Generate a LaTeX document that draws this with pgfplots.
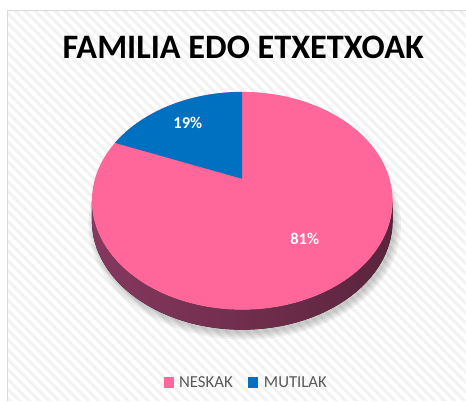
\documentclass[border=0pt]{standalone}
\usepackage{pgfplots}
\usepackage{pgfplotstable}
\pgfplotsset{compat=1.18}
\usetikzlibrary{patterns.meta}
\usepackage{fontspec}
\setmainfont{Carlito}
\definecolor{neskak}{HTML}{FF6699}
\definecolor{mutilak}{HTML}{0070C0}
\definecolor{sideL}{HTML}{86385E}
\definecolor{sideR}{HTML}{5B243D}
\definecolor{legtxt}{HTML}{595959}
\definecolor{stripe}{HTML}{F2F2F2}
\definecolor{frame}{HTML}{D9D9D9}

\pgfplotstableread{
name    value
NESKAK  81
MUTILAK 19
}\piedata

\begin{document}
\begin{tikzpicture}
\pgfplotstablegetelem{1}{value}\of\piedata
\let\blueval\pgfplotsretval
% perspective of the pie top: apex at (242.5,222), ellipse centre (242.5,200)
\pgfmathsetmacro\th{90+3.6*\blueval}
\pgfmathsetmacro\den{1+0.2018*sin(\th)}
\pgfmathsetmacro\PX{242.5+146.9*cos(\th)/\den}
\pgfmathsetmacro\PY{222+104.6*sin(\th)/\den}
\pgfmathsetmacro\tend{atan2((\PY-200)/109,(\PX-242.5)/150.5)}
\begin{axis}[
  x=1pt, y=1pt,
  xmin=0, xmax=466, ymin=0, ymax=401,
  hide axis, clip=false,
]
% background and frame
\fill[white] (axis cs:0,0) rectangle (axis cs:466,401);
\fill[pattern={Lines[angle=-45,distance=7pt,line width=3pt]},pattern color=stripe]
  (axis cs:8,0) rectangle (axis cs:466,390);
\draw[frame,line width=1pt] (axis cs:8,0) -- (axis cs:8,390) -- (axis cs:466,390);
% soft shadow
\fill[black,opacity=0.05] (axis cs:245,176) ellipse[x radius=150.5, y radius=109];
\fill[black,opacity=0.05] (axis cs:245,176) ellipse[x radius=152.5, y radius=111];
\fill[black,opacity=0.05] (axis cs:245,176) ellipse[x radius=154.5, y radius=113];
\fill[black,opacity=0.05] (axis cs:245,176) ellipse[x radius=156.5, y radius=115];
% side of the pie
\fill[left color=sideL,right color=sideR]
  (axis cs:92,200) arc[start angle=180,end angle=360,x radius=150.5,y radius=109]
  -- (axis cs:393,180)
  arc[start angle=0,end angle=-180,x radius=150.5,y radius=109] -- cycle;
% top face
\fill[neskak] (axis cs:242.5,200) ellipse[x radius=150.5, y radius=109];
\fill[mutilak] (axis cs:242.5,222) -- (axis cs:242.5,309)
  arc[start angle=90,end angle=\tend,x radius=150.5,y radius=109] -- cycle;
% labels
\node[white,font=\fontsize{16.5}{18}\selectfont\bfseries] at (axis cs:188,278) {19\%};
\node[white,font=\fontsize{16.5}{18}\selectfont\bfseries] at (axis cs:305,162) {81\%};
% title
\node[font=\fontsize{34.3}{37}\selectfont\bfseries] at (axis cs:243.5,353.5) {FAMILIA EDO ETXETXOAK};
% legend
\fill[neskak] (axis cs:164.3,12.7) rectangle (axis cs:174.3,23.3);
\node[anchor=west,inner sep=0,text=legtxt,font=\fontsize{16.8}{18}\selectfont] at (axis cs:179,18) {NESKAK};
\fill[mutilak] (axis cs:248.3,12.7) rectangle (axis cs:258.3,23.3);
\node[anchor=west,inner sep=0,text=legtxt,font=\fontsize{16.8}{18}\selectfont] at (axis cs:264,18) {MUTILAK};
\end{axis}
\end{tikzpicture}
\end{document}
